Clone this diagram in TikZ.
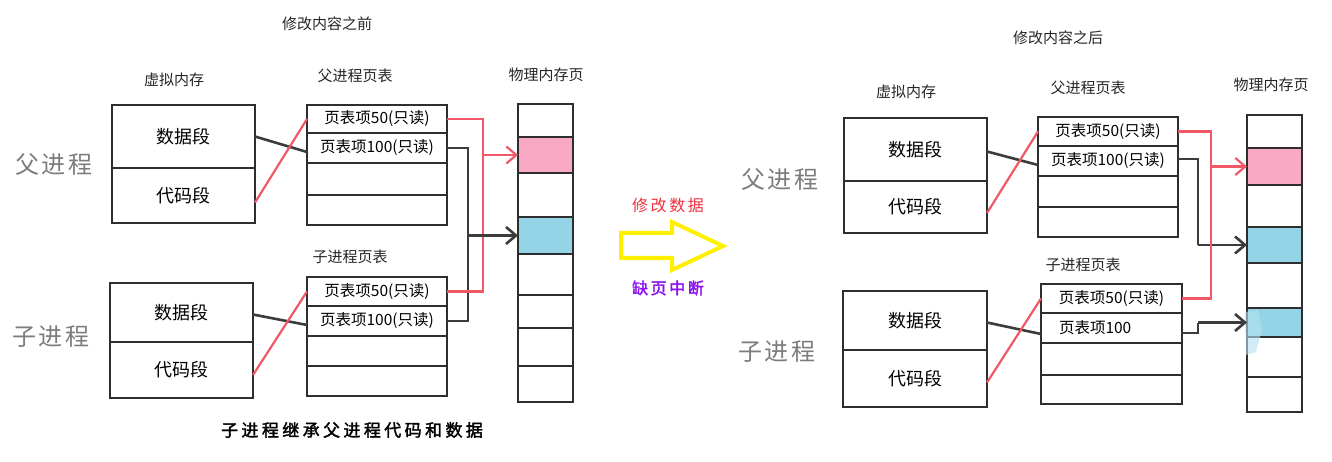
\documentclass[tikz,border=0pt]{standalone}
\usepackage{fontspec}
\setmainfont{Noto Sans CJK SC}
\newfontfamily\cjkspaced[LetterSpace=12]{Noto Sans CJK SC}
\newfontfamily\cjkmid[LetterSpace=16]{Noto Sans CJK SC}
\newfontfamily\cjkboldspaced[FakeBold=2,LetterSpace=20]{Noto Sans CJK SC}
\newfontfamily\cjkboldmid[FakeBold=2,LetterSpace=16]{Noto Sans CJK SC}
\usetikzlibrary{arrows.meta}
\definecolor{redline}{HTML}{F05868}
\definecolor{pinkfill}{HTML}{F9A9C3}
\definecolor{bluefill}{HTML}{94D4E6}
\definecolor{lightblue}{HTML}{B5E2F0}
\definecolor{sketch}{HTML}{2E2E2E}
\definecolor{grayline}{HTML}{3C3C3C}
\definecolor{yellowarrow}{HTML}{FFF000}
\definecolor{purpletext}{HTML}{8A10F0}
\definecolor{redtext}{HTML}{F03040}
\definecolor{proclabel}{HTML}{7C7C7C}
\begin{document}
\begin{tikzpicture}[x=1pt,y=-1pt,
  cell/.style={draw=sketch, line width=2.4pt, inner sep=0pt, outer sep=0pt, font=\fontsize{18}{18}\selectfont},
  ptcell/.style={draw=sketch, line width=2.4pt, inner sep=0pt, outer sep=0pt, font=\fontsize{15.5}{15.5}\selectfont},
  phys/.style={draw=sketch, line width=2.4pt, inner sep=0pt, outer sep=0pt, minimum width=55pt},
  lbl/.style={font=\fontsize{15}{15}\selectfont, text=black!85, inner sep=0pt},
  proc/.style={font=\cjkspaced\fontsize{24}{24}\selectfont, text=proclabel, inner sep=0pt},
  redconn/.style={draw=redline, line width=2.2pt},
  grayconn/.style={draw=grayline, line width=2.6pt},
  redarrow/.style={redconn, -{Straight Barb[length=10pt,width=17pt]}},
  grayarrow/.style={grayconn, -{Straight Barb[length=10pt,width=17pt]}},
]
\fill[white] (0,0) rectangle (1332,462);
\useasboundingbox (0,0) rectangle (1332,462);

% ---------------- left panel ----------------
\node[lbl] (ltitle) at (327,24) {修改内容之前};
\node[lbl] (lvlab) at (174,80) {虚拟内存};
\node[lbl] (lptlab) at (355,76) {父进程页表};
\node[lbl] (lphlab) at (546,75) {物理内存页};
\node[lbl] (lcptlab) at (350,257) {子进程页表};
\node[proc] (lparent) at (54,165) {父进程};
\node[proc] (lchild) at (51,337) {子进程};

% virtual memory
\node[cell, minimum width=143pt, minimum height=63pt] (lpvd) at (183.5,136.5) {数据段\hspace{20pt}};
\node[cell, minimum width=143pt, minimum height=55pt] (lpvc) at (183.5,195.5) {代码段\hspace{20pt}};
\node[cell, minimum width=143pt, minimum height=59pt] (lcvd) at (181.5,312.5) {数据段\hspace{20pt}};
\node[cell, minimum width=143pt, minimum height=56pt] (lcvc) at (181.5,370) {代码段\hspace{20pt}};

% page tables
\node[ptcell, minimum width=140pt, minimum height=28pt] (lpp1) at (377,119) {页表项50(只读)};
\node[ptcell, minimum width=140pt, minimum height=30pt] (lpp2) at (377,148) {页表项100(只读)};
\node[ptcell, minimum width=140pt, minimum height=32pt] (lpp3) at (377,179) {};
\node[ptcell, minimum width=140pt, minimum height=30pt] (lpp4) at (377,210) {};
\node[ptcell, minimum width=140pt, minimum height=29pt] (lcp1) at (377,291.5) {页表项50(只读)};
\node[ptcell, minimum width=140pt, minimum height=30pt] (lcp2) at (377,321) {页表项100(只读)};
\node[ptcell, minimum width=140pt, minimum height=30pt] (lcp3) at (377,351) {};
\node[ptcell, minimum width=140pt, minimum height=30pt] (lcp4) at (377,381) {};

% physical pages
\node[phys, minimum height=33pt] (lph1) at (545.5,120.5) {};
\node[phys, minimum height=36pt, fill=pinkfill] (lph2) at (545.5,155) {};
\node[phys, minimum height=44pt] (lph3) at (545.5,195) {};
\node[phys, minimum height=37pt, fill=bluefill] (lph4) at (545.5,235.5) {};
\node[phys, minimum height=41pt] (lph5) at (545.5,274.5) {};
\node[phys, minimum height=33pt] (lph6) at (545.5,311.5) {};
\node[phys, minimum height=38pt] (lph7) at (545.5,347) {};
\node[phys, minimum height=36pt] (lph8) at (545.5,384) {};

% connectors virtual -> page table
\draw[grayconn] (lpvd.east) -- ([yshift=-4pt]lpp2.west);
\draw[redconn] ([yshift=-7pt]lpvc.east) -- (lpp1.west);
\draw[grayconn] ([yshift=-2pt]lcvd.east) -- ([yshift=-4pt]lcp2.west);
\draw[redconn] ([yshift=-5pt]lcvc.east) -- (lcp1.west);

% page table -> physical
\coordinate (lred) at (483,0 |- lph2.west);
\coordinate (lgray) at (468,0 |- lph4.west);
\draw[grayconn] (lpp2.east) -| (lgray) |- (lcp2.east);
\draw[redconn] (lpp1.east) -| (lred) |- (lcp1.east);
\draw[redarrow] (lred) -- (lph2.west);
\draw[grayarrow] (lgray) -- (lph4.west);

\node[font=\cjkboldspaced\fontsize{17}{17}\selectfont, inner sep=0pt] (lcaption) at (352,430) {子进程继承父进程代码和数据};

% ---------------- middle ----------------
\node[font=\cjkmid\fontsize{16}{16}\selectfont, text=redtext, inner sep=0pt] (modlab) at (668,205) {修改数据};
\draw[yellowarrow, line width=4pt, line join=miter] (621,233) -- (672,233) -- (672,222) -- (723,246) -- (672,270) -- (672,258) -- (621,258) -- cycle;
\node[font=\cjkboldmid\fontsize{16}{16}\selectfont, text=purpletext, inner sep=0pt] (faultlab) at (668,288) {缺页中断};

% ---------------- right panel ----------------
\node[lbl] (rtitle) at (1058,38) {修改内容之后};
\node[lbl] (rvlab) at (906,92) {虚拟内存};
\node[lbl] (rptlab) at (1088,88) {父进程页表};
\node[lbl] (rphlab) at (1271,85) {物理内存页};
\node[lbl] (rcptlab) at (1083,265) {子进程页表};
\node[proc] (rparent) at (780,180) {父进程};
\node[proc] (rchild) at (777,352) {子进程};

\node[cell, minimum width=143pt, minimum height=63pt] (rpvd) at (915.5,149.5) {数据段\hspace{20pt}};
\node[cell, minimum width=143pt, minimum height=52pt] (rpvc) at (915.5,207) {代码段\hspace{20pt}};
\node[cell, minimum width=144pt, minimum height=59pt] (rcvd) at (915,320.5) {数据段\hspace{20pt}};
\node[cell, minimum width=144pt, minimum height=57pt] (rcvc) at (915,378.5) {代码段\hspace{20pt}};

\node[ptcell, minimum width=140pt, minimum height=29pt] (rpp1) at (1108,131.5) {页表项50(只读)};
\node[ptcell, minimum width=140pt, minimum height=30pt] (rpp2) at (1108,161) {页表项100(只读)};
\node[ptcell, minimum width=140pt, minimum height=31pt] (rpp3) at (1108,191.5) {};
\node[ptcell, minimum width=140pt, minimum height=30pt] (rpp4) at (1108,222) {};
\node[ptcell, minimum width=141pt, minimum height=29pt] (rcp1) at (1111.5,298.5) {页表项50(只读)};
\node[ptcell, minimum width=141pt, minimum height=30pt, text width=105pt, align=left, inner xsep=18pt] (rcp2) at (1111.5,328) {页表项100};
\node[ptcell, minimum width=141pt, minimum height=32pt] (rcp3) at (1111.5,359) {};
\node[ptcell, minimum width=141pt, minimum height=29pt] (rcp4) at (1111.5,389.5) {};

\node[phys, minimum height=33pt] (rph1) at (1274.5,131.5) {};
\node[phys, minimum height=37pt, fill=pinkfill] (rph2) at (1274.5,166.5) {};
\node[phys, minimum height=42pt] (rph3) at (1274.5,206) {};
\node[phys, minimum height=36pt, fill=bluefill] (rph4) at (1274.5,245) {};
\node[phys, minimum height=45pt] (rph5) at (1274.5,285.5) {};
\node[phys, minimum height=29pt, fill=bluefill] (rph6) at (1274.5,322.5) {};
\node[phys, minimum height=40pt] (rph7) at (1274.5,357) {};
\node[phys, minimum height=35pt] (rph8) at (1274.5,394.5) {};
\fill[lightblue, opacity=0.6] (1245,312) -- (1258,310) -- (1262,330) -- (1256,352) -- (1246,355) -- cycle;

\draw[grayconn] ([yshift=-2pt]rpvd.east) -- ([yshift=-4pt]rpp2.west);
\draw[redconn] ([yshift=-6pt]rpvc.east) -- (rpp1.west);
\draw[grayconn] ([yshift=-2pt]rcvd.east) -- ([yshift=-6pt]rcp2.west);
\draw[redconn] ([yshift=-4pt]rcvc.east) -- (rcp1.west);

\coordinate (rred) at (1211,0 |- rph2.west);
\coordinate (rgray) at (1198,0 |- rph4.west);
\coordinate (rgray2) at (1198,0 |- rph6.west);
\draw[grayconn] ([yshift=2pt]rpp2.east) -| (rgray);
\draw[grayarrow] (rgray) -- (rph4.west);
\draw[redconn] (rpp1.east) -| (rred) |- (rcp1.east);
\draw[redarrow] (rred) -- (rph2.west);
\draw[grayconn] ([yshift=-5pt]rcp2.east) -| (rgray2);
\draw[grayarrow] (rgray2) -- (rph6.west);
\end{tikzpicture}
\end{document}
